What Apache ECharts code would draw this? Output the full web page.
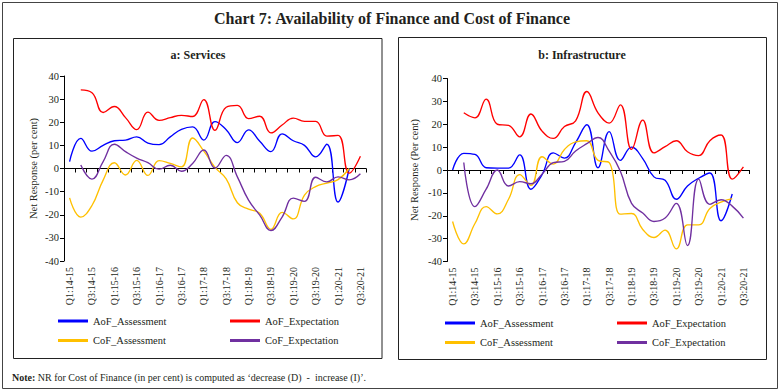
<!DOCTYPE html>
<html>
<head>
<meta charset="utf-8">
<script src="https://cdn.jsdelivr.net/npm/echarts@6/dist/echarts.min.js"></script>
<style>
html,body{margin:0;padding:0;background:#fff;}
#c{width:784px;height:391px;}
</style>
</head>
<body>
<div id="c"></div>
<script>
const quarters = ['Q1:14-15','Q2:14-15','Q3:14-15','Q4:14-15','Q1:15-16','Q2:15-16','Q3:15-16','Q4:15-16','Q1:16-17','Q2:16-17','Q3:16-17','Q4:16-17','Q1:17-18','Q2:17-18','Q3:17-18','Q4:17-18','Q1:18-19','Q2:18-19','Q3:18-19','Q4:18-19','Q1:19-20','Q2:19-20','Q3:19-20','Q4:19-20','Q1:20-21','Q2:20-21','Q3:20-21'];
const seriesNames = ['AoF_Assessment','AoF_Expectation','CoF_Assessment','CoF_Expectation'];
const yTicks = [-40, 40, 10];

// a: Services
const svcAofAssess = [3, 13, 7.5, 10, 12, 12.3, 13.7, 11, 10.3, 13.7, 16.9, 18, 12.3, 20.3, 16.8, 11.2, 16.7, 11.8, 7.3, 15, 12, 10, 5, 10.5, -14.5, 0, null];
const svcAofExpect = [null, 34, 32.8, 24.2, 26.8, 22, 16.8, 24.4, 20.8, 22, 23, 22.5, 29.8, 16.5, 26.5, 27.3, 21.6, 22.6, 15.4, 18.8, 21.8, 20.4, 20.4, 14, 14.3, -2, 5.3];
const svcCofAssess = [-12.7, -21, -16, -5, 2.5, -2.8, 3.5, -3, 3.4, 2.2, 0.7, 13.2, 7.5, 0.5, -4.5, -14.8, -17.6, -19.3, -26.3, -19, -21.8, -11.5, -7.8, -6.3, -4.8, 0, null];
const svcCofExpect = [null, 1.5, -4.6, 3, 10.5, 7.3, 4.5, 2.5, -0.3, 1.4, -1.2, 2.2, 8, 0.2, 5.7, -3.6, -13.7, -20.2, -26.8, -21, -12.8, -14.2, -3.8, -5.8, -3.6, -4.9, -2.3];

// b: Infrastructure
const infAofAssess = [0, 7.3, 6.8, 1, 0.8, 0.8, 6.6, -8.4, -2, 7.5, 5.2, 12, 19.8, 1, 16.8, 4.2, 10, 5, -3, -4.5, -12.8, -7, -3.6, -1.3, -22.2, -10.5, null];
const infAofExpect = [null, 25, 22.8, 31, 20, 19.5, 14.5, 24.5, 17, 13.8, 19, 21.5, 34.3, 25, 20.5, 28.5, 9, 21.8, 7.5, 10.2, 12.8, 8, 6.3, 12.8, 15.3, -4, 1.4];
const infCofAssess = [-22.5, -32.3, -23.4, -16, -19.2, -12.8, -2, -6.7, 5.8, 2.6, 9, 12.3, 12.8, 4.2, 3.2, -19.3, -19, -26, -29.5, -26.3, -34.5, -24, -24, -16.8, -14, -12.5, null];
const infCofExpect = [null, 3.3, -16, -8.4, 0, -7, -5.1, -6, -1.8, 3.2, 3.8, 8.3, 11.5, 14.2, 8.2, -0.5, -14.6, -18.8, -22.5, -21, -14.6, -33, -4, -15, -13, -15.8, -21];

const colors = ['#0000FF', '#FF0000', '#FFC000', '#7030A0'];
const FF = '"Liberation Serif", "Times New Roman", serif';
const TXT = '#231F20';

const chart = echarts.init(document.getElementById('c'), null, {renderer: 'svg', width: 784, height: 391});

function lineAxis(g) {
  return {
    gridIndex: g, type: 'category', data: quarters, boundaryGap: true,
    axisLine: {show: true, onZero: true, lineStyle: {color: '#000', width: 1}},
    axisTick: {show: true, interval: 0, length: 4, lineStyle: {color: '#000'}},
    axisLabel: {show: false}, splitLine: {show: false}
  };
}
function labelAxis(g) {
  return {
    gridIndex: g, type: 'category', data: quarters, boundaryGap: true, position: 'bottom',
    axisLine: {show: false, onZero: false}, axisTick: {show: false},
    axisLabel: {interval: 1, rotate: 90, margin: 6, fontSize: 10, fontFamily: FF, color: TXT},
    splitLine: {show: false}
  };
}
function valAxis(g, name, gap) {
  return {
    gridIndex: g, type: 'value', min: yTicks[0], max: yTicks[1], interval: yTicks[2],
    axisLine: {show: true, onZero: false, lineStyle: {color: '#000', width: 1}},
    axisTick: {show: true, length: 4, lineStyle: {color: '#000'}},
    axisLabel: {fontSize: 10.5, margin: 5, fontFamily: FF, color: TXT},
    splitLine: {show: false},
    name: name, nameLocation: 'middle', nameRotate: 90, nameGap: gap,
    nameTextStyle: {fontSize: 10.5, fontFamily: FF, color: TXT}
  };
}
function mkSeries(name, data, xi, yi, ci) {
  return {
    name: name, type: 'line', data: data, xAxisIndex: xi, yAxisIndex: yi,
    smooth: 0.45, showSymbol: false, symbol: 'none', connectNulls: false,
    lineStyle: {color: colors[ci], width: 1.35}, itemStyle: {color: colors[ci]},
    emphasis: {disabled: true}
  };
}
function legendItem(name, left, top) {
  return {
    data: [name], left: left, top: top, icon: 'rect', itemWidth: 30, itemHeight: 3,
    padding: 0, selectedMode: false,
    textStyle: {fontSize: 10.5, fontFamily: FF, color: TXT}
  };
}

const option = {
  animation: false,
  backgroundColor: '#fff',
  title: [{
    text: 'Chart 7: Availability of Finance and Cost of Finance',
    left: 'center', top: 10, padding: 0,
    textStyle: {fontFamily: FF, fontSize: 16, fontWeight: 'bold', color: TXT}
  }],
  grid: [
    {left: 64, top: 76, width: 302, height: 185, containLabel: false},
    {left: 447, top: 78.5, width: 302, height: 183, containLabel: false}
  ],
  xAxis: [lineAxis(0), labelAxis(0), lineAxis(1), labelAxis(1)],
  yAxis: [valAxis(0, 'Net Response (per cent)', 25), valAxis(1, 'Net Response (Per cent)', 27)],
  legend: [
    legendItem(seriesNames[0], 58, 315.5),
    legendItem(seriesNames[1], 230, 315.5),
    legendItem(seriesNames[2], 58, 335),
    legendItem(seriesNames[3], 230, 335),
    legendItem(seriesNames[0], 445, 317.5),
    legendItem(seriesNames[1], 617, 317.5),
    legendItem(seriesNames[2], 445, 337),
    legendItem(seriesNames[3], 617, 337)
  ],
  series: [
    mkSeries(seriesNames[0], svcAofAssess, 0, 0, 0),
    mkSeries(seriesNames[1], svcAofExpect, 0, 0, 1),
    mkSeries(seriesNames[2], svcCofAssess, 0, 0, 2),
    mkSeries(seriesNames[3], svcCofExpect, 0, 0, 3),
    mkSeries(seriesNames[0], infAofAssess, 2, 1, 0),
    mkSeries(seriesNames[1], infAofExpect, 2, 1, 1),
    mkSeries(seriesNames[2], infCofAssess, 2, 1, 2),
    mkSeries(seriesNames[3], infCofExpect, 2, 1, 3)
  ],
  graphic: [
    {type: 'rect', silent: true, shape: {x: 2.5, y: 2.5, width: 775, height: 386}, style: {fill: 'none', stroke: '#444', lineWidth: 1}},
    {type: 'rect', silent: true, shape: {x: 13.5, y: 38.5, width: 368.5, height: 320}, style: {fill: 'none', stroke: '#222', lineWidth: 1}},
    {type: 'rect', silent: true, shape: {x: 398.5, y: 37.5, width: 368, height: 322}, style: {fill: 'none', stroke: '#222', lineWidth: 1}},
    {type: 'text', silent: true, x: 198, y: 55, style: {text: 'a: Services', textAlign: 'center', textVerticalAlign: 'middle', fontSize: 12, fontWeight: 'bold', fontFamily: FF, fill: TXT}},
    {type: 'text', silent: true, x: 582, y: 55, style: {text: 'b: Infrastructure', textAlign: 'center', textVerticalAlign: 'middle', fontSize: 12, fontWeight: 'bold', fontFamily: FF, fill: TXT}},
    {type: 'text', silent: true, x: 12, y: 377, style: {
      text: '{b|Note:} NR for Cost of Finance (in per cent) is computed as \u2018decrease (D)  -  increase (I)\u2019.',
      textVerticalAlign: 'middle', fontSize: 10, fontFamily: FF, fill: TXT,
      rich: {b: {fontWeight: 'bold', fontSize: 10, fontFamily: FF, fill: TXT}}
    }}
  ]
};
chart.setOption(option);
</script>
</body>
</html>
